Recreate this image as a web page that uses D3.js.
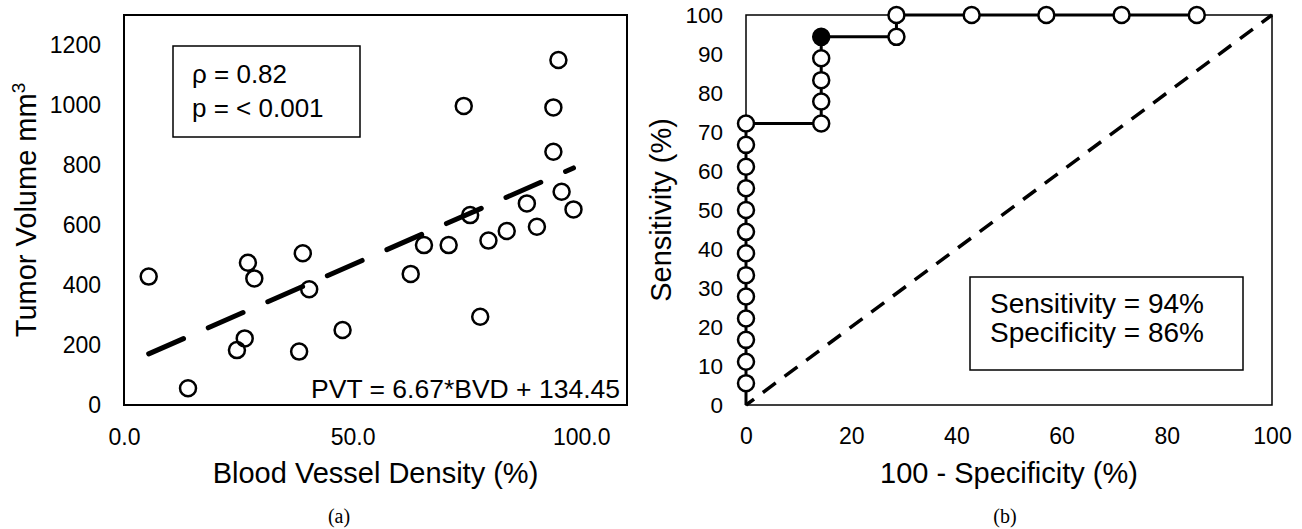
<!DOCTYPE html>
<html>
<head>
<meta charset="utf-8">
<script src="https://cdn.jsdelivr.net/npm/d3@7"></script>
<style>
  html, body { margin: 0; padding: 0; background: #fff; }
  svg { display: block; }
  text { font-family: "Liberation Sans", Arial, sans-serif; fill: #000; }
  .serif { font-family: "Liberation Serif", "Times New Roman", serif; }
</style>
</head>
<body>
<svg id="chart" width="1302" height="529"></svg>
<script>
// ---------- Panel (a) data: Blood vessel density vs tumor volume ----------
const bvd    = [5.4, 14.0, 27.1, 28.5, 26.4, 24.7, 38.3, 40.5, 39.1, 47.8, 62.7, 77.9, 65.6,
                71.0, 79.7, 83.7, 90.3, 88.1, 75.7, 95.7, 98.3, 93.9, 93.9, 95.0, 74.3];
const volume = [428, 56, 474, 422, 222, 183, 178, 386, 506, 250, 437, 294, 533,
                533, 548, 580, 594, 672, 633, 711, 652, 844, 992, 1150, 997];
const fitSlope = 6.67, fitIntercept = 134.45;
const xTicksA = [0, 50, 100];
const yTicksA = [0, 200, 400, 600, 800, 1000, 1200];
const annotA = ["ρ = 0.82", "p = < 0.001"];
const eqA = "PVT = 6.67*BVD + 134.45";

// ---------- Panel (b) data: ROC curve ----------
const rocFpr  = [0, 0, 0, 0, 0, 0, 0, 0, 0, 0, 0, 0, 0,
                 14.3, 14.3, 14.3, 14.3, 14.3,
                 28.6, 28.6, 42.9, 57.1, 71.4, 85.7];
const rocSens = [5.6, 11.1, 16.7, 22.2, 27.8, 33.3, 38.9, 44.4, 50.0, 55.6, 61.1, 66.7, 72.2,
                 72.2, 77.8, 83.3, 88.9, 94.4,
                 94.4, 100, 100, 100, 100, 100];
const optimalIndex = 17; // filled point (14.3, 94.4)
const xTicksB = [0, 20, 40, 60, 80, 100];
const yTicksB = [0, 10, 20, 30, 40, 50, 60, 70, 80, 90, 100];
const annotB = ["Sensitivity = 94%", "Specificity = 86%"];

const svg = d3.select("#chart");
const sans = '"Liberation Sans", Arial, sans-serif';

// ================= Panel (a) =================
const xA = d3.scaleLinear().domain([0, 110]).range([124, 627]);
const yA = d3.scaleLinear().domain([0, 1300]).range([405, 15]);
const gA = svg.append("g");

gA.append("g").attr("transform", `translate(0,${yA(0)})`)
  .call(d3.axisBottom(xA).tickValues(xTicksA).tickFormat(d3.format(".1f")).tickSize(0).tickPadding(24))
  .call(g => g.select(".domain").remove())
  .selectAll("text").style("font-size", "23px").style("font-family", sans).attr("fill", "#000");

gA.append("g").attr("transform", `translate(${xA(0)},0)`)
  .call(d3.axisLeft(yA).tickValues(yTicksA).tickFormat(d3.format("d")).tickSize(0).tickPadding(23))
  .call(g => g.select(".domain").remove())
  .selectAll("text").style("font-size", "23px").style("font-family", sans).attr("fill", "#000");

gA.append("rect")
  .attr("x", xA(0)).attr("y", yA(1300))
  .attr("width", xA(110) - xA(0)).attr("height", yA(0) - yA(1300))
  .attr("fill", "none").attr("stroke", "#000").attr("stroke-width", 2);

// regression line
const xExt = d3.extent(bvd);
gA.append("line")
  .attr("x1", xA(xExt[0])).attr("y1", yA(fitSlope * xExt[0] + fitIntercept))
  .attr("x2", xA(xExt[1])).attr("y2", yA(fitSlope * xExt[1] + fitIntercept))
  .attr("stroke", "#000").attr("stroke-width", 5)
  .attr("stroke-linecap", "round")
  .attr("stroke-dasharray", "38,27");

gA.append("g").selectAll("circle").data(bvd).join("circle")
  .attr("cx", (d) => xA(d))
  .attr("cy", (d, i) => yA(volume[i]))
  .attr("r", 8)
  .attr("fill", "none").attr("stroke", "#000").attr("stroke-width", 2.5);

// annotation box
gA.append("rect").attr("x", 173).attr("y", 46).attr("width", 187).attr("height", 91)
  .attr("fill", "#fff").attr("stroke", "#000").attr("stroke-width", 1.5);
gA.selectAll(".annA").data(annotA).join("text").attr("class", "annA")
  .attr("x", 192).attr("y", (d, i) => 83 + i * 34)
  .style("font-size", "26px").text(d => d);

gA.append("text").attr("x", 620).attr("y", 398).attr("text-anchor", "end")
  .style("font-size", "26.5px").text(eqA);

// axis titles
gA.append("text").attr("x", 375.5).attr("y", 483).attr("text-anchor", "middle")
  .style("font-size", "29px").text("Blood Vessel Density (%)");
const ytA = gA.append("text").attr("transform", "translate(36,210) rotate(-90)")
  .attr("text-anchor", "middle").style("font-size", "29px");
ytA.append("tspan").text("Tumor Volume mm");
ytA.append("tspan").attr("dy", -11).style("font-size", "19px").text("3");

gA.append("text").attr("class", "serif").attr("x", 339).attr("y", 523)
  .attr("text-anchor", "middle").style("font-size", "20px").text("(a)");

// ================= Panel (b) =================
const xB = d3.scaleLinear().domain([0, 100]).range([746, 1272]);
const yB = d3.scaleLinear().domain([0, 100]).range([405, 15]);
const gB = svg.append("g");

gB.append("g").attr("transform", `translate(0,${yB(0)})`)
  .call(d3.axisBottom(xB).tickValues(xTicksB).tickSize(0).tickPadding(23))
  .call(g => g.select(".domain").remove())
  .selectAll("text").style("font-size", "23px").style("font-family", sans).attr("fill", "#000");

gB.append("g").attr("transform", `translate(${xB(0)},0)`)
  .call(d3.axisLeft(yB).tickValues(yTicksB).tickSize(0).tickPadding(23))
  .call(g => g.select(".domain").remove())
  .selectAll("text").style("font-size", "22.5px").style("font-family", sans).attr("fill", "#000");

gB.append("rect")
  .attr("x", xB(0)).attr("y", yB(100))
  .attr("width", xB(100) - xB(0)).attr("height", yB(0) - yB(100))
  .attr("fill", "none").attr("stroke", "#000").attr("stroke-width", 1.5);

// diagonal reference
gB.append("line")
  .attr("x1", xB(0)).attr("y1", yB(0)).attr("x2", xB(100)).attr("y2", yB(100))
  .attr("stroke", "#000").attr("stroke-width", 3.5)
  .attr("stroke-dasharray", "16,11").attr("stroke-dashoffset", 6);

// ROC step line
const rocPts = [[0, 0]].concat(rocFpr.map((f, i) => [f, rocSens[i]]));
gB.append("path")
  .attr("d", d3.line().x(d => xB(d[0])).y(d => yB(d[1]))(rocPts))
  .attr("fill", "none").attr("stroke", "#000").attr("stroke-width", 3);

gB.append("g").selectAll("circle").data(rocFpr).join("circle")
  .attr("cx", d => xB(d))
  .attr("cy", (d, i) => yB(rocSens[i]))
  .attr("r", 8)
  .attr("fill", (d, i) => i === optimalIndex ? "#000" : "#fff")
  .attr("stroke", "#000").attr("stroke-width", 2.5);

// annotation box
gB.append("rect").attr("x", 970).attr("y", 277).attr("width", 273).attr("height", 93)
  .attr("fill", "#fff").attr("stroke", "#000").attr("stroke-width", 1.5);
gB.selectAll(".annB").data(annotB).join("text").attr("class", "annB")
  .attr("x", 990).attr("y", (d, i) => 313 + i * 29)
  .style("font-size", "28px").text(d => d);

gB.append("text").attr("x", 1009).attr("y", 483).attr("text-anchor", "middle")
  .style("font-size", "29px").text("100 - Specificity (%)");
gB.append("text").attr("transform", "translate(671,210) rotate(-90)")
  .attr("text-anchor", "middle").style("font-size", "29px").text("Sensitivity (%)");

gB.append("text").attr("class", "serif").attr("x", 1005).attr("y", 523)
  .attr("text-anchor", "middle").style("font-size", "20px").text("(b)");
</script>
</body>
</html>
